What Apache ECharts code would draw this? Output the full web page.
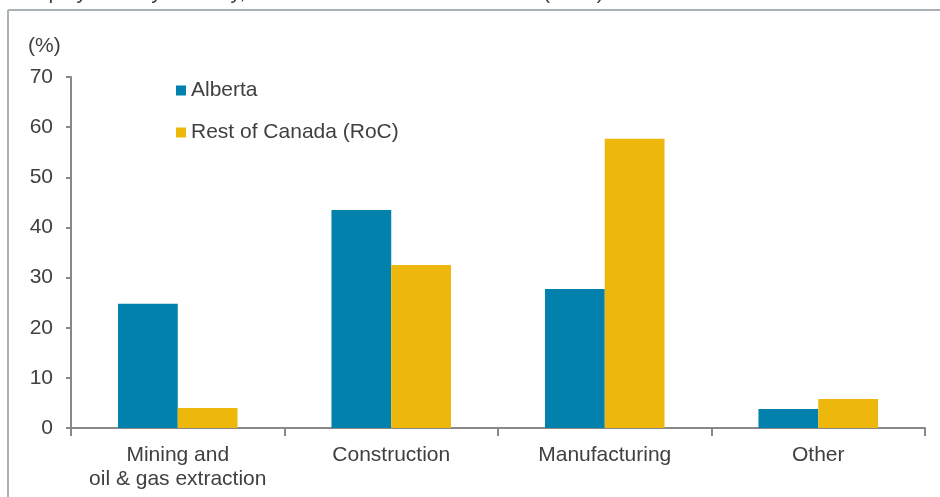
<!DOCTYPE html>
<html>
<head>
<meta charset="utf-8">
<script src="https://cdn.jsdelivr.net/npm/echarts@6/dist/echarts.min.js"></script>
<style>html,body{margin:0;padding:0;background:#fff;}#c{width:940px;height:497px;}</style>
</head>
<body>
<div id="c"></div>
<script>
const categories = ['Mining and\noil & gas extraction', 'Construction', 'Manufacturing', 'Other'];
const albertaValues = [24.8, 43.5, 27.7, 3.8];
const rocValues = [4.0, 32.5, 57.7, 5.8];
const seriesNames = ['Alberta', 'Rest of Canada (RoC)'];
const yTicks = [0, 10, 20, 30, 40, 50, 60, 70];
const unitLabel = '(%)';
const titleText = 'Employment by industry, Alberta and the rest of Canada (2014)';

const chart = echarts.init(document.getElementById('c'), null, {renderer: 'canvas'});
const font = 'Liberation Sans, Arial, sans-serif';
const txt = '#404040';
chart.setOption({
  animation: false,
  textStyle: {fontFamily: font},
  graphic: [
    {type: 'text', left: 17, top: -17, style: {text: titleText, font: '21px Liberation Sans', fill: txt}},
    {type: 'line', shape: {x1: 8, y1: 10, x2: 940, y2: 10}, style: {stroke: '#a9b1b5', lineWidth: 2}},
    {type: 'line', shape: {x1: 8, y1: 10, x2: 8, y2: 497}, style: {stroke: '#a9b1b5', lineWidth: 2}},
    {type: 'text', left: 28, top: 36, style: {text: unitLabel, font: '21px Liberation Sans', fill: txt}}
  ],
  legend: {
    orient: 'vertical', left: 171, top: 75, itemGap: 21, itemWidth: 10, itemHeight: 10,
    icon: 'rect', textStyle: {fontSize: 21, color: txt, padding: [0, 0, 0, 0]},
    data: seriesNames
  },
  grid: {left: 71, right: 15, top: 77, bottom: 69, containLabel: false},
  xAxis: {
    type: 'category', data: categories,
    axisLine: {lineStyle: {color: '#888', width: 2}},
    axisTick: {show: true, length: 8, lineStyle: {color: '#888', width: 2}},
    axisLabel: {fontSize: 21, color: txt, margin: 15, lineHeight: 24, interval: 0}
  },
  yAxis: {
    type: 'value', min: 0, max: 70, interval: 10,
    axisLine: {show: true, lineStyle: {color: '#888', width: 2}},
    axisTick: {show: true, length: 5, lineStyle: {color: '#888', width: 2}},
    splitLine: {show: false},
    axisLabel: {fontSize: 21, color: txt, margin: 18, formatter: v => yTicks.includes(v) ? String(v) : ''}
  },
  series: [
    {name: seriesNames[0], type: 'bar', data: albertaValues, barGap: 0, barCategoryGap: '44%', itemStyle: {color: '#0181ac'}},
    {name: seriesNames[1], type: 'bar', data: rocValues, barGap: 0, barCategoryGap: '44%', itemStyle: {color: '#edb80b'}}
  ]
});
</script>
</body>
</html>
